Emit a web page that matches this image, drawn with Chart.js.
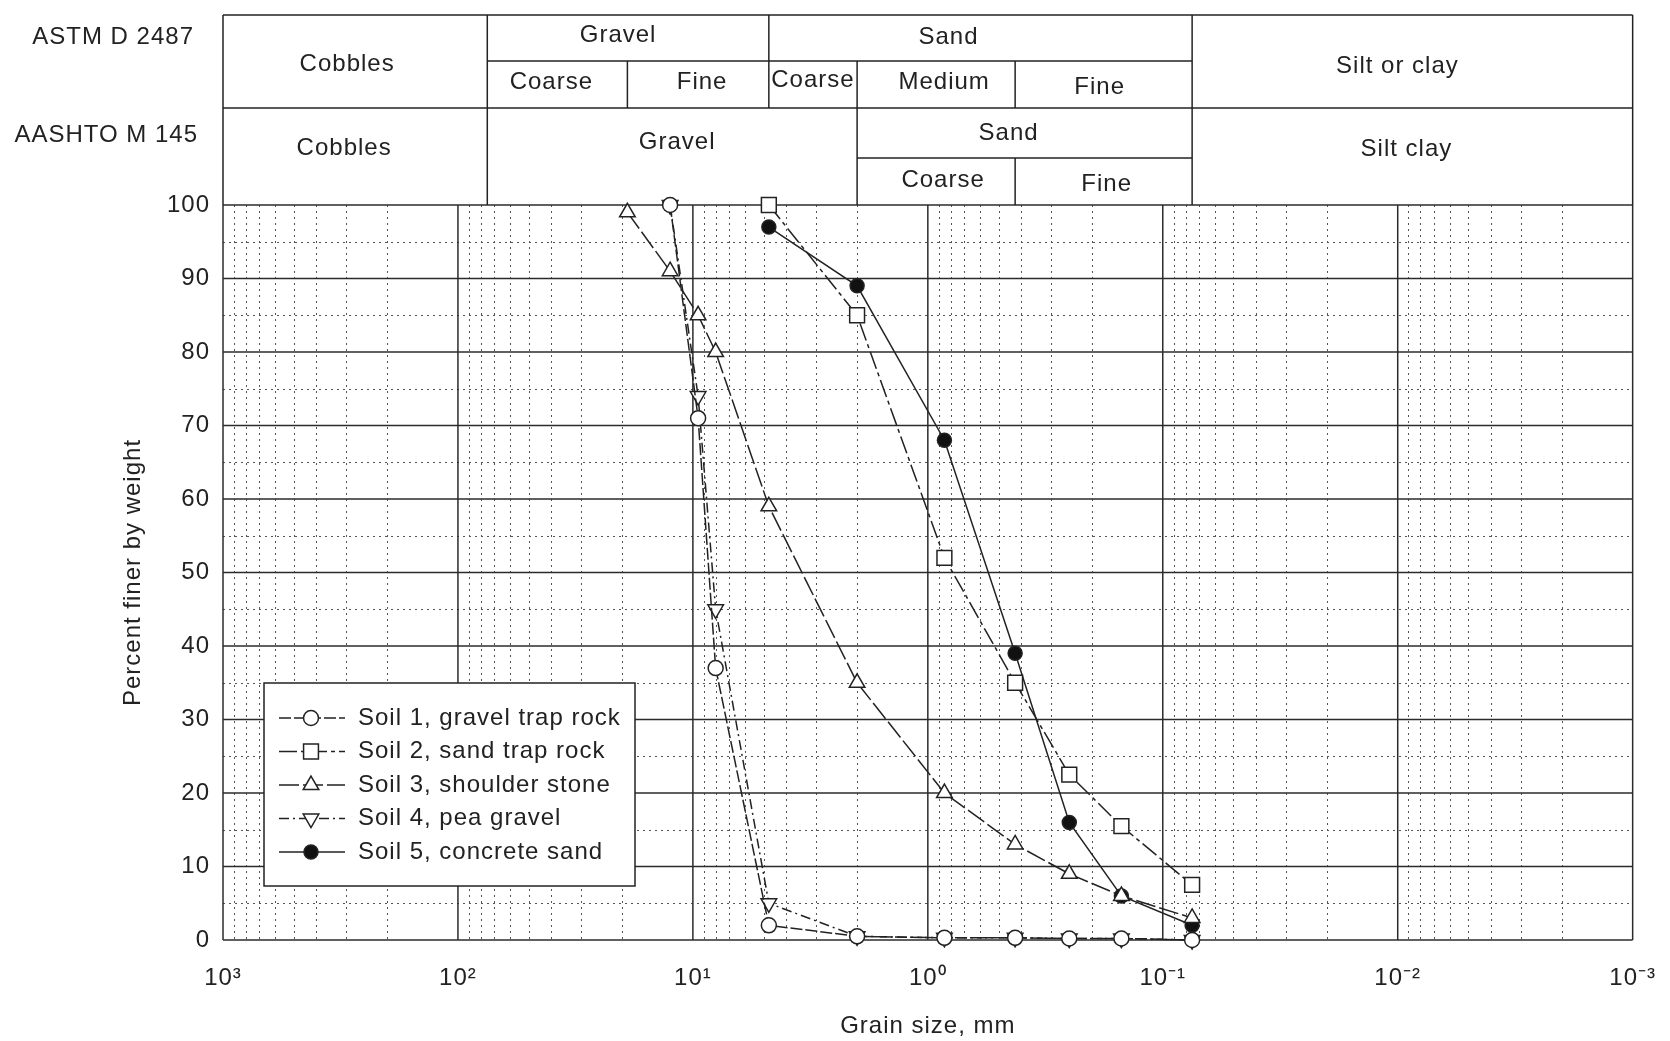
<!DOCTYPE html>
<html>
<head>
<meta charset="utf-8">
<title>Grain size distribution</title>
<script src="https://cdn.jsdelivr.net/npm/chart.js@4.4.0/dist/chart.umd.min.js"></script>
<style>
  html, body { margin: 0; padding: 0; background: #fff; }
  canvas { display: block; }
</style>
</head>
<body>
<canvas id="grading" width="1670" height="1041"></canvas>
<script>
// sieve openings, mm
const sieveSizes = [19, 12.5, 9.5, 8.0, 4.75, 2.0, 0.85, 0.425, 0.25, 0.15, 0.075];

// percent finer by weight at each sieve (null = not tested)
const soil1 = [null, 100, 71, 37, 2, 0.5, 0.3, 0.3, 0.2, 0.2, 0];
const soil2 = [null, null, null, null, 100, 85, 52, 35, 22.5, 15.5, 7.5];
const soil3 = [99, 91, 85, 80, 59, 35, 20, 13, 9, 6, 3];
const soil4 = [null, 100, 74, 45, 5, 0.5, 0.3, 0.3, 0.2, 0.2, 0];
const soil5 = [null, null, null, null, 97, 89, 68, 39, 16, 6, 2];

const soilNames = [
  'Soil 1, gravel trap rock',
  'Soil 2, sand trap rock',
  'Soil 3, shoulder stone',
  'Soil 4, pea gravel',
  'Soil 5, concrete sand'
];

const decadeTicks = [1000, 100, 10, 1, 0.1, 0.01, 0.001];
const decadeLabels = ['10³', '10²', '10¹', '10⁰', '10⁻¹', '10⁻²', '10⁻³'];

// class limits, mm
const astmLimits = [75, 19, 4.75, 2.0, 0.425, 0.075];
const aashtoLimits = [75, 2.0, 0.425, 0.075];

const INK = '#222';
const FONT = '"Liberation Sans", Arial, sans-serif';

function toPoints(values) {
  return sieveSizes
    .map((d, i) => ({ x: d, y: values[i] }))
    .filter(p => p.y !== null);
}

const markerStyles = [
  { pointStyle: 'circle',   radius: 7.5,  rotation: 0,   fill: '#fff', dash: [12, 3] },
  { pointStyle: 'rect',     radius: 10.5, rotation: 0,   fill: '#fff', dash: [18, 4, 4, 4] },
  { pointStyle: 'triangle', radius: 9,    rotation: 0,   fill: '#fff', dash: [20, 4] },
  { pointStyle: 'triangle', radius: 9,    rotation: 180, fill: '#fff', dash: [10, 4, 2, 4] },
  { pointStyle: 'circle',   radius: 7,    rotation: 0,   fill: '#111', dash: [] }
];

const datasets = [soil1, soil2, soil3, soil4, soil5].map((vals, i) => {
  const s = markerStyles[i];
  return {
    label: soilNames[i],
    data: toPoints(vals),
    showLine: true,
    borderColor: INK,
    borderWidth: 1.5,
    borderDash: s.dash,
    pointStyle: s.pointStyle,
    pointRadius: s.radius,
    pointRotation: s.rotation,
    pointBackgroundColor: s.fill,
    pointBorderColor: INK,
    pointBorderWidth: 1.5,
    clip: false
  };
});

function line(ctx, x1, y1, x2, y2) {
  ctx.beginPath();
  ctx.moveTo(x1, y1);
  ctx.lineTo(x2, y2);
  ctx.stroke();
}

// spacing for all text on the canvas
const spacingPlugin = {
  id: 'textSpacing',
  beforeDraw(chart) {
    chart.ctx.letterSpacing = '1px';
  }
};

// log-paper grid: solid decades / tens, dotted intermediates
const gridPlugin = {
  id: 'paperGrid',
  beforeDatasetsDraw(chart) {
    const { ctx, chartArea: a, scales: { x, y } } = chart;
    ctx.save();
    ctx.strokeStyle = '#555';
    ctx.lineWidth = 1;
    ctx.setLineDash([2, 4]);
    for (let e = -3; e < 3; e++) {
      for (let m = 2; m <= 9; m++) {
        const px = Math.round(x.getPixelForValue(m * Math.pow(10, e))) + 0.5;
        line(ctx, px, a.top, px, a.bottom);
      }
    }
    for (let v = 5; v < 100; v += 10) {
      const py = Math.round(y.getPixelForValue(v)) + 0.5;
      line(ctx, a.left, py, a.right, py);
    }
    ctx.setLineDash([]);
    ctx.strokeStyle = '#2b2b2b';
    ctx.lineWidth = 1.5;
    decadeTicks.forEach(v => {
      const px = x.getPixelForValue(v);
      line(ctx, px, a.top, px, a.bottom);
    });
    for (let v = 0; v <= 100; v += 10) {
      const py = y.getPixelForValue(v);
      line(ctx, a.left, py, a.right, py);
    }
    ctx.restore();
  }
};

// soil classification bands above the plot
const headerPlugin = {
  id: 'classBands',
  afterDraw(chart) {
    const { ctx, chartArea: a, scales: { x } } = chart;
    const px = d => (d === null ? null : x.getPixelForValue(d));
    const top = 15, astmSplit = 61, mid = 108, aashtoSplit = 158, bottom = a.top;
    ctx.save();
    ctx.strokeStyle = INK;
    ctx.lineWidth = 1.5;
    line(ctx, a.left, top, a.right, top);
    line(ctx, a.left, mid, a.right, mid);
    line(ctx, a.left, top, a.left, bottom);
    line(ctx, a.right, top, a.right, bottom);

    // ASTM D 2487
    line(ctx, px(astmLimits[0]), astmSplit, px(astmLimits[5]), astmSplit);
    line(ctx, px(astmLimits[0]), top, px(astmLimits[0]), mid);
    line(ctx, px(astmLimits[1]), astmSplit, px(astmLimits[1]), mid);
    line(ctx, px(astmLimits[2]), top, px(astmLimits[2]), mid);
    line(ctx, px(astmLimits[3]), astmSplit, px(astmLimits[3]), mid);
    line(ctx, px(astmLimits[4]), astmSplit, px(astmLimits[4]), mid);
    line(ctx, px(astmLimits[5]), top, px(astmLimits[5]), mid);

    // AASHTO M 145
    line(ctx, px(aashtoLimits[0]), mid, px(aashtoLimits[0]), bottom);
    line(ctx, px(aashtoLimits[1]), mid, px(aashtoLimits[1]), bottom);
    line(ctx, px(aashtoLimits[3]), mid, px(aashtoLimits[3]), bottom);
    line(ctx, px(aashtoLimits[1]), aashtoSplit, px(aashtoLimits[3]), aashtoSplit);
    line(ctx, px(aashtoLimits[2]), aashtoSplit, px(aashtoLimits[2]), bottom);

    ctx.fillStyle = INK;
    ctx.font = '24px ' + FONT;
    ctx.textBaseline = 'middle';
    ctx.textAlign = 'center';
    // [text, from mm, to mm, y, x nudge]
    const cells = [
      ['Cobbles', null, 75, 64, -8],
      ['Gravel', 75, 4.75, 35, -10],
      ['Coarse', 75, 19, 82, -6],
      ['Fine', 19, 4.75, 82, 4],
      ['Sand', 4.75, 0.075, 37, -32],
      ['Coarse', 4.75, 2.0, 80, 0],
      ['Medium', 2.0, 0.425, 82, 8],
      ['Fine', 0.425, 0.075, 87, -4],
      ['Silt or clay', 0.075, null, 66, -15],
      ['Cobbles', null, 75, 148, -11],
      ['Gravel', 75, 2.0, 142, 5],
      ['Sand', 2.0, 0.075, 133, -16],
      ['Coarse', 2.0, 0.425, 180, 7],
      ['Fine', 0.425, 0.075, 184, 3],
      ['Silt clay', 0.075, null, 149, -6]
    ];
    cells.forEach(([text, from, to, ty, dx]) => {
      const l = from === null ? a.left : px(from);
      const r = to === null ? a.right : px(to);
      ctx.fillText(text, (l + r) / 2 + dx, ty);
    });
    ctx.textAlign = 'right';
    ctx.fillText('ASTM D 2487', 194, 37);
    ctx.fillText('AASHTO M 145', 198, 135);
    ctx.restore();
  }
};

// boxed key inside the plot, lower left
const keyPlugin = {
  id: 'soilKey',
  afterDatasetsDraw(chart) {
    const { ctx } = chart;
    const box = { left: 264, top: 683, right: 635, bottom: 886 };
    ctx.save();
    ctx.fillStyle = '#fff';
    ctx.fillRect(box.left, box.top, box.right - box.left, box.bottom - box.top);
    ctx.strokeStyle = INK;
    ctx.lineWidth = 1.5;
    ctx.strokeRect(box.left, box.top, box.right - box.left, box.bottom - box.top);
    ctx.font = '24px ' + FONT;
    ctx.textBaseline = 'middle';
    ctx.textAlign = 'left';
    chart.data.datasets.forEach((ds, i) => {
      const ty = 718 + i * 33.5;
      ctx.strokeStyle = INK;
      ctx.lineWidth = 1.5;
      ctx.setLineDash(ds.borderDash);
      line(ctx, 279, ty, 345, ty);
      ctx.setLineDash([]);
      ctx.fillStyle = ds.pointBackgroundColor;
      Chart.helpers.drawPoint(ctx, {
        pointStyle: ds.pointStyle,
        radius: ds.pointRadius,
        rotation: ds.pointRotation,
        borderWidth: 1.5
      }, 311, ty);
      ctx.fillStyle = INK;
      ctx.fillText(ds.label, 358, ty);
    });
    ctx.restore();
  }
};

new Chart(document.getElementById('grading'), {
  type: 'scatter',
  data: { datasets },
  plugins: [spacingPlugin, gridPlugin, headerPlugin, keyPlugin],
  options: {
    responsive: false,
    devicePixelRatio: 1,
    animation: false,
    events: [],
    layout: { padding: { top: 205, right: 30, left: 0, bottom: 0 } },
    plugins: {
      legend: { display: false },
      tooltip: { enabled: false }
    },
    scales: {
      x: {
        type: 'logarithmic',
        reverse: true,
        min: 0.001,
        max: 1000,
        grid: { display: false },
        border: { display: false },
        afterBuildTicks: s => { s.ticks = decadeTicks.map(v => ({ value: v })); },
        afterFit: s => { s.height = 101; },
        ticks: {
          autoSkip: false,
          maxRotation: 0,
          padding: 16,
          color: INK,
          font: { family: FONT, size: 24 },
          callback: (v, i) => decadeLabels[i]
        },
        title: {
          display: true,
          text: 'Grain size, mm',
          color: INK,
          font: { family: FONT, size: 24 },
          padding: { top: 0, bottom: 0 }
        }
      },
      y: {
        min: 0,
        max: 100,
        grid: { display: false },
        border: { display: false },
        afterFit: s => { s.width = 223; },
        ticks: {
          stepSize: 10,
          padding: 5,
          color: INK,
          font: { family: FONT, size: 24 }
        },
        title: {
          display: true,
          text: 'Percent finer by weight',
          color: INK,
          font: { family: FONT, size: 24 },
          padding: { top: 119, bottom: 0 }
        }
      }
    }
  }
});
</script>
</body>
</html>
